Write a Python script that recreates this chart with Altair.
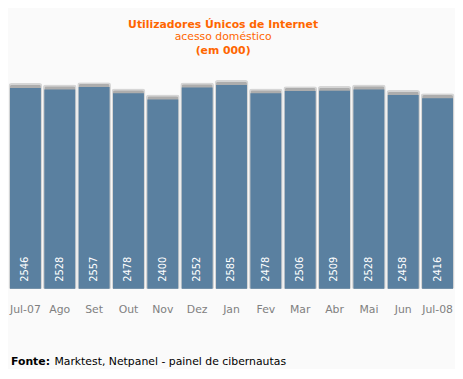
import altair as alt
import pandas as pd

months = ["Jul-07", "Ago", "Set", "Out", "Nov", "Dez", "Jan", "Fev", "Mar", "Abr", "Mai", "Jun", "Jul-08"]
values = [2546, 2528, 2557, 2478, 2400, 2552, 2585, 2478, 2506, 2509, 2528, 2458, 2416]

title_main = "Utilizadores Únicos de Internet"
title_sub = "acesso doméstico"
title_unit = "(em 000)"
source_bold = "Fonte:"
source_text = "Marktest, Netpanel - painel de cibernautas"

df = pd.DataFrame({"mes": months, "valor": values})

W, H = 449, 282
FONT = "DejaVu Sans"
ORANGE = "#ff6600"

xenc = alt.X("mes:N", sort=months, title=None,
             scale=alt.Scale(paddingInner=0.1, paddingOuter=0.0),
             axis=alt.Axis(labelAngle=0, ticks=False, domain=False, labelPadding=15,
                           labelFont=FONT, labelFontSize=11, labelColor="#808080"))
yscale = alt.Scale(domain=[0, 3530])
yenc = alt.Y("valor:Q", scale=yscale, axis=None, title=None)

base = alt.Chart(df)

shadow_outer = base.transform_calculate(topo="datum.valor + 62").mark_bar(
    color="#d6d6d6", width=alt.RelativeBandSize(1.09),
    cornerRadiusTopLeft=3, cornerRadiusTopRight=3
).encode(x=xenc, y=alt.Y("topo:Q", scale=yscale, axis=None, title=None))
shadow_inner = base.transform_calculate(topi="datum.valor + 40").mark_bar(
    color="#adadad", width=alt.RelativeBandSize(1.0),
    cornerRadiusTopLeft=2, cornerRadiusTopRight=2
).encode(x=xenc, y=alt.Y("topi:Q", scale=yscale, axis=None, title=None))
bars = base.mark_bar(color="#5a80a0").encode(x=xenc, y=yenc)

labels = base.mark_text(angle=270, align="left", baseline="middle", color="white",
                        font=FONT, fontSize=10).encode(
    x=xenc, y=alt.value(H - 7), text="valor:Q")

t1 = alt.Chart(pd.DataFrame({"t": [title_main]})).mark_text(
    align="center", baseline="alphabetic", color=ORANGE, font=FONT, fontSize=11, fontWeight="bold"
).encode(x=alt.value(216), y=alt.value(18), text="t:N")
t2 = alt.Chart(pd.DataFrame({"t": [title_sub]})).mark_text(
    align="center", baseline="alphabetic", color=ORANGE, font=FONT, fontSize=11
).encode(x=alt.value(216), y=alt.value(30), text="t:N")
t3 = alt.Chart(pd.DataFrame({"t": [title_unit]})).mark_text(
    align="center", baseline="alphabetic", color=ORANGE, font=FONT, fontSize=11, fontWeight="bold"
).encode(x=alt.value(216), y=alt.value(44), text="t:N")

f1 = alt.Chart(pd.DataFrame({"t": [source_bold]})).mark_text(
    align="left", baseline="alphabetic", color="black", font=FONT, fontSize=11, fontWeight="bold"
).encode(x=alt.value(1), y=alt.value(359), text="t:N")
f2 = alt.Chart(pd.DataFrame({"t": [source_text]})).mark_text(
    align="left", baseline="alphabetic", color="black", font=FONT, fontSize=11
).encode(x=alt.value(45), y=alt.value(359), text="t:N")

chart = alt.layer(shadow_outer, shadow_inner, bars, labels, t1, t2, t3, f1, f2).properties(
    width=W, height=H, padding=0, background="#fafafa"
).configure_view(stroke=None)

chart.save("out.html", embed_options={"renderer": "svg", "actions": False})
